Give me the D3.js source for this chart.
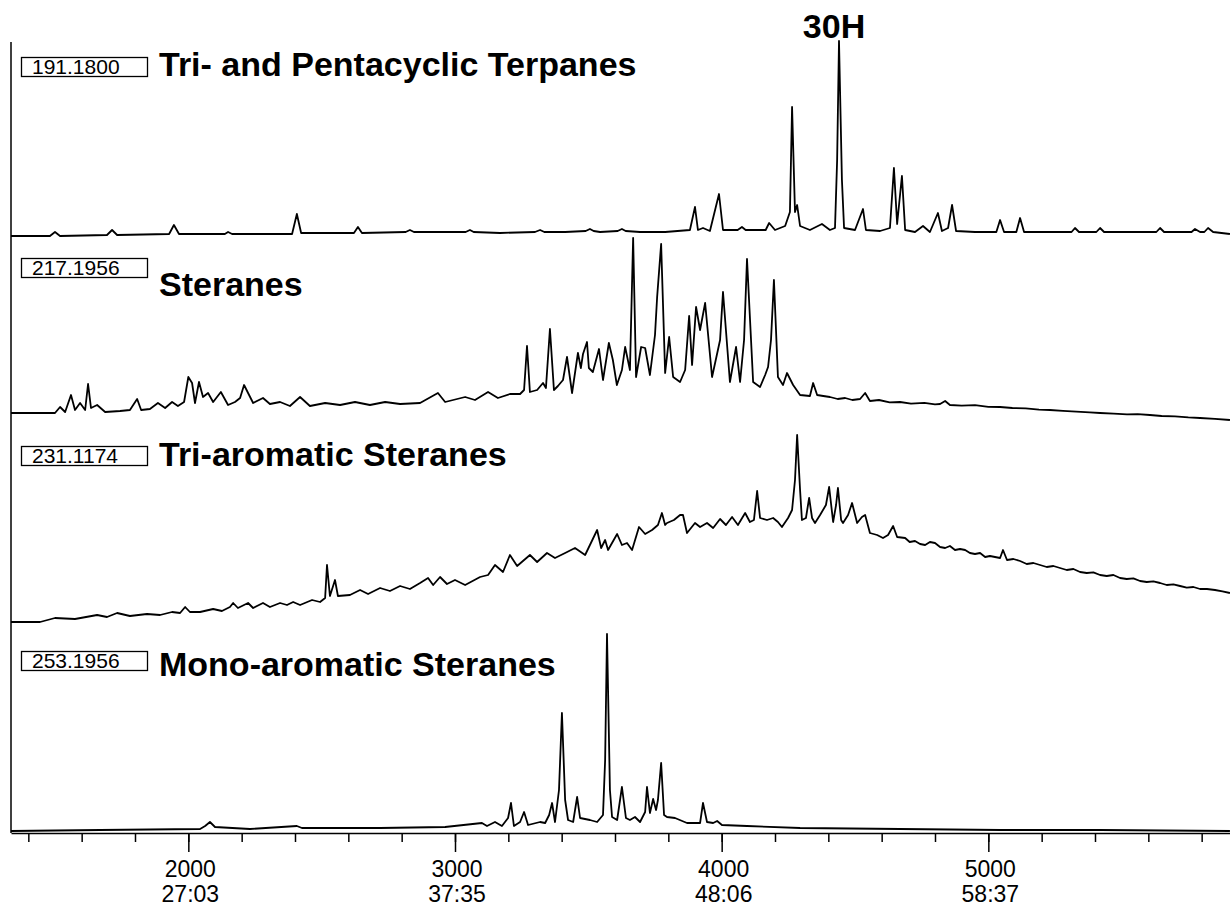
<!DOCTYPE html>
<html>
<head>
<meta charset="utf-8">
<script src="https://cdn.jsdelivr.net/npm/d3@7"></script>
<style>
  body { margin: 0; background: #fff; }
  svg { display: block; }
  .trace { fill: none; stroke: #000; stroke-width: 1.8; stroke-linejoin: round; }
  .title { font-family: "Liberation Sans", Arial, sans-serif; font-weight: bold; font-size: 34px; }
  .ion { font-family: "Liberation Sans", Arial, sans-serif; font-size: 21px; }
  .axis text { font-family: "Liberation Sans", Arial, sans-serif; font-size: 23px; }
</style>
</head>
<body>
<div id="chart"></div>
<script>
// scan number ticks along the bottom
var scanTicks = [1400, 1600, 1800, 2000, 2200, 2400, 2600, 2800, 3000, 3200, 3400, 3600, 3800,
                 4000, 4200, 4400, 4600, 4800, 5000, 5200, 5400, 5600, 5800];
var majorTicks = [2000, 3000, 4000, 5000];
var timeLabels = ["27:03", "37:35", "48:06", "58:37"];

var ions = ["191.1800", "217.1956", "231.1174", "253.1956"];
var titles = ["Tri- and Pentacyclic Terpanes", "Steranes", "Tri-aromatic Steranes", "Mono-aromatic Steranes"];

// [scan, relative intensity]
var terpanes = [[1335,2],[1481,2],[1500,4],[1519,2],[1695,2.5],[1714,5],[1733,2.5],[1928,3],[1946,7.5],[1965,3],
  [2137,3],[2149,4],[2164,3],[2389,3],[2407,13],[2423,3.5],[2621,3.5],[2636,6.5],[2651,3.5],[2815,4],[2831,5],[2846,4],
  [3040,4],[3056,5],[3070,4],[3169,3.5],[3300,4],[3319,5],[3335,4],[3413,4],[3490,4.5],[3506,5.5],[3520,4.5],[3544,4],
  [3610,4.5],[3626,5.5],[3640,4.5],[3694,4],[3788,4],[3881,5],[3900,16.5],[3911,5],[3930,6],[3956,4.5],[3990,23],[4005,5],
  [4060,5],[4076,6.5],[4090,5],[4106,5],[4165,5],[4178,8.5],[4200,5],[4238,7],[4256,14],[4264,66.5],[4275,14],[4283,17.5],
  [4294,7],[4331,5],[4376,8],[4406,5],[4425,6],[4433,40],[4440,99.5],[4451,30],[4459,6],[4500,5],[4530,15.5],[4541,5],
  [4594,4.5],[4631,6],[4646,36],[4658,8],[4676,32],[4688,5],[4725,4],[4755,7],[4781,4],[4811,13.5],[4826,4.5],[4849,6],
  [4864,17.5],[4879,4.5],[4950,4],[5030,4],[5044,10],[5059,4],[5105,4],[5119,11],[5134,4],[5231,4],[5312,4],[5325,6],
  [5340,4],[5405,4],[5419,6],[5434,4],[5630,4],[5644,6],[5659,4],[5762,4],[5775,5.5],[5794,4],[5810,4],[5824,6],[5843,4],[5906,3]];

var steranes = [[1335,8.5],[1500,8.5],[1519,11.5],[1538,9],[1560,17.5],[1575,10],[1594,13.5],[1613,10],[1624,23],[1635,11],
  [1658,12.5],[1688,9],[1744,9.5],[1781,10],[1808,15.5],[1823,10],[1856,10.5],[1886,13.5],[1913,11],[1939,14],[1961,12],
  [1984,14],[2000,26.5],[2014,23.5],[2025,13.5],[2040,24],[2055,16.5],[2074,18.5],[2093,14],[2122,19],[2149,12.5],[2175,14],
  [2194,16],[2209,22.5],[2224,18.5],[2243,13.5],[2280,16],[2306,13],[2344,14],[2381,12],[2419,16.5],[2456,12],[2513,13.5],
  [2569,12.5],[2625,14],[2681,12.5],[2738,14],[2794,13],[2869,13.5],[2936,18.5],[2963,14],[3038,16.5],[3075,15],[3124,19],
  [3161,16],[3206,18],[3244,18],[3259,20],[3270,42],[3281,19],[3308,20],[3330,23.5],[3341,21],[3356,50.5],[3371,20],
  [3386,22],[3405,25],[3420,36.5],[3439,18.5],[3461,38.5],[3472,31],[3480,38],[3495,44],[3502,31],[3517,29],[3540,40.5],
  [3555,25],[3577,43.5],[3592,35],[3607,22.5],[3626,30],[3638,41.5],[3656,30],[3668,96],[3679,26.5],[3698,41.5],[3713,41],
  [3731,27.5],[3750,47.5],[3758,66.5],[3773,93],[3788,28.5],[3803,46.5],[3818,26.5],[3844,24],[3863,30],[3878,57],
  [3889,32.5],[3904,61.5],[3919,50],[3938,63.5],[3964,26.5],[3994,45],[4005,69],[4031,24],[4054,41.5],[4069,24],[4084,45],
  [4095,85.5],[4118,24],[4144,21.5],[4163,27.5],[4174,31.5],[4185,45],[4196,75],[4211,26.5],[4230,22.5],[4245,28.5],
  [4268,22.5],[4294,17.5],[4331,17],[4343,23.5],[4358,17.5],[4381,17],[4406,16.5],[4435,15.5],[4463,16],[4490,15],
  [4519,15.5],[4538,18.5],[4556,14.5],[4590,15],[4630,13.8],[4669,14],[4710,13.2],[4760,13.6],[4800,12.8],[4819,13],
  [4838,14.5],[4856,12.5],[4900,12.2],[4950,12.4],[5000,11.6],[5044,11.5],[5090,11],[5140,10.8],[5190,10.2],[5231,10],
  [5280,9.6],[5330,9.2],[5380,8.8],[5419,8.5],[5470,8.2],[5520,7.8],[5560,7.9],[5606,7.5],[5650,7],[5700,6.8],[5750,6.3],
  [5794,6],[5850,5.6],[5906,5]];

var triaromatic = [[1335,4],[1444,4],[1500,6],[1575,5.5],[1658,7.5],[1695,6.5],[1733,8.5],[1781,7],[1845,8],[1894,7.5],
  [1939,9],[1969,8.5],[1988,11.5],[2006,9],[2044,9],[2093,10.5],[2126,9.5],[2156,11.5],[2168,13.5],[2186,11],[2224,13.5],
  [2243,11],[2280,13.5],[2306,11.5],[2344,13.5],[2370,12.5],[2393,14],[2419,12.5],[2464,15],[2494,14],[2513,16],[2520,32.5],
  [2531,17],[2550,25],[2561,17],[2606,17.5],[2644,20],[2674,18],[2719,21],[2756,19.5],[2794,22],[2831,20.5],[2869,23.5],
  [2899,26],[2918,22.5],[2944,26.5],[2970,23],[3000,25],[3038,22.5],[3094,26.5],[3124,27.5],[3150,32.5],[3180,29],
  [3206,37.5],[3233,32],[3281,37.5],[3308,34],[3345,38.5],[3375,36],[3413,38.5],[3450,41],[3488,37.5],[3533,50],[3548,41],
  [3563,45],[3574,40],[3608,48],[3626,42.5],[3645,43.5],[3664,40],[3690,51.5],[3713,48],[3739,50],[3761,52.5],[3776,58.5],
  [3788,52.5],[3795,53.5],[3821,55],[3844,57.5],[3855,57.5],[3870,48.5],[3900,53.5],[3919,51.5],[3945,53.5],[3968,51],
  [3994,55.5],[4016,52.5],[4039,56.5],[4061,52.5],[4088,58.5],[4106,54],[4121,55],[4133,69.5],[4144,56],[4170,55],
  [4193,56],[4211,54],[4226,51.5],[4249,56],[4264,60],[4275,75],[4283,97.5],[4294,70],[4301,55],[4316,56],[4328,66],
  [4339,56],[4350,53.5],[4369,57.5],[4391,62.5],[4403,71.5],[4418,54],[4429,62.5],[4436,71],[4448,55],[4455,53.5],
  [4474,57.5],[4489,63.5],[4508,53.5],[4526,56.5],[4538,57.5],[4556,48.5],[4583,47.5],[4605,46],[4624,47.5],[4643,52],
  [4658,46.5],[4688,46],[4705,44],[4725,44.5],[4744,43],[4763,42.5],[4781,44],[4800,43.5],[4819,41.5],[4838,41],
  [4856,42],[4875,40],[4894,40.5],[4913,40],[4931,38.5],[4950,38],[4969,38.5],[4988,36.5],[5006,37],[5025,36.5],[5044,36],
  [5055,40],[5070,35],[5094,35.5],[5119,34.5],[5144,33],[5169,33.5],[5194,32.5],[5219,31.5],[5244,32],[5269,31],
  [5294,30],[5319,30.5],[5344,29],[5369,28.5],[5394,28.8],[5419,27.5],[5444,27],[5469,27.5],[5494,26],[5519,25.5],
  [5544,25.8],[5569,24.5],[5594,24],[5619,24.3],[5644,23.5],[5669,22.5],[5694,22.8],[5719,22],[5744,21.2],[5769,21.5],
  [5794,20.5],[5820,20.5],[5850,20],[5878,19.3],[5906,18.5]];

var monoaromatic = [[1335,1.5],[1669,2],[2044,2.5],[2063,4],[2081,6],[2100,3.5],[2231,2.5],[2407,4],[2426,3],[2719,3],
  [2963,3.5],[3101,5.5],[3120,4],[3150,6],[3176,4],[3199,8],[3210,15.5],[3221,4],[3244,6],[3259,11],[3274,4.5],[3319,6],
  [3338,5.5],[3353,9.5],[3364,15.5],[3375,6],[3390,22],[3401,60.5],[3413,17],[3424,7],[3443,6],[3458,18.5],[3469,8],
  [3506,7],[3533,6],[3555,9.5],[3563,37],[3570,100],[3581,22],[3589,8.5],[3608,7],[3626,23.5],[3641,8],[3656,7],[3675,8.5],
  [3694,6],[3713,11],[3720,23.5],[3731,10.5],[3743,17.5],[3754,12],[3761,17],[3773,35.5],[3784,9.5],[3795,8.5],[3825,8],
  [3870,5.5],[3919,5.5],[3930,15.5],[3945,6],[3968,5.5],[3983,6.5],[4001,4.5],[4095,4],[4294,3],[4669,2.5],[5044,2],
  [5419,2],[5906,1.5]];

var width = 1230, height = 909;
var svg = d3.select("#chart").append("svg")
    .attr("width", width)
    .attr("height", height);

var x = d3.scaleLinear().domain([1335, 5910]).range([11, 1231]);

var traces = [terpanes, steranes, triaromatic, monoaromatic];
var zeroY = [240, 430, 630, 834];
var boxTop = [57, 258, 446, 651];
var titleBase = [76, 296, 466, 676];

traces.forEach(function(data, i) {
    var y = d3.scaleLinear().domain([0, 100]).range([zeroY[i], zeroY[i] - 200]);
    var line = d3.line()
        .x(function(d) { return x(d[0]); })
        .y(function(d) { return y(d[1]); });

    svg.append("path")
        .datum(data)
        .attr("class", "trace")
        .attr("d", line);

    svg.append("rect")
        .attr("x", 21.5)
        .attr("y", boxTop[i] + 0.5)
        .attr("width", 126)
        .attr("height", 19)
        .attr("fill", "none")
        .attr("stroke", "#000")
        .attr("stroke-width", 1.3);

    svg.append("text")
        .attr("class", "ion")
        .attr("x", 32)
        .attr("y", boxTop[i] + 17)
        .text(ions[i]);

    svg.append("text")
        .attr("class", "title")
        .attr("x", 159)
        .attr("y", titleBase[i])
        .text(titles[i]);
});

svg.append("text")
    .attr("class", "title")
    .attr("x", 834)
    .attr("y", 38)
    .attr("text-anchor", "middle")
    .text("30H");

// left frame line
svg.append("line")
    .attr("x1", 11).attr("x2", 11)
    .attr("y1", 42).attr("y2", 833)
    .attr("stroke", "#000")
    .attr("stroke-width", 1.5);

var axis = svg.append("g")
    .attr("class", "axis")
    .attr("transform", "translate(0,833)");

axis.call(d3.axisBottom(x).tickValues(scanTicks).tickSize(9).tickSizeOuter(0).tickFormat(""));

var major = svg.append("g")
    .attr("class", "axis")
    .attr("transform", "translate(0,833)")
    .call(d3.axisBottom(x).tickValues(majorTicks).tickSize(19).tickSizeOuter(0).tickFormat(""));
major.select(".domain").remove();

axis.selectAll("path, line").attr("stroke", "#000").attr("stroke-width", 1.5);
major.selectAll("line").attr("stroke", "#000").attr("stroke-width", 1.5);

var labels = svg.append("g").attr("class", "axis");
majorTicks.forEach(function(t, i) {
    labels.append("text")
        .attr("x", x(t) + 2)
        .attr("y", 877)
        .attr("text-anchor", "middle")
        .text(t);
    labels.append("text")
        .attr("x", x(t) + 2)
        .attr("y", 902)
        .attr("text-anchor", "middle")
        .text(timeLabels[i]);
});
</script>
</body>
</html>
